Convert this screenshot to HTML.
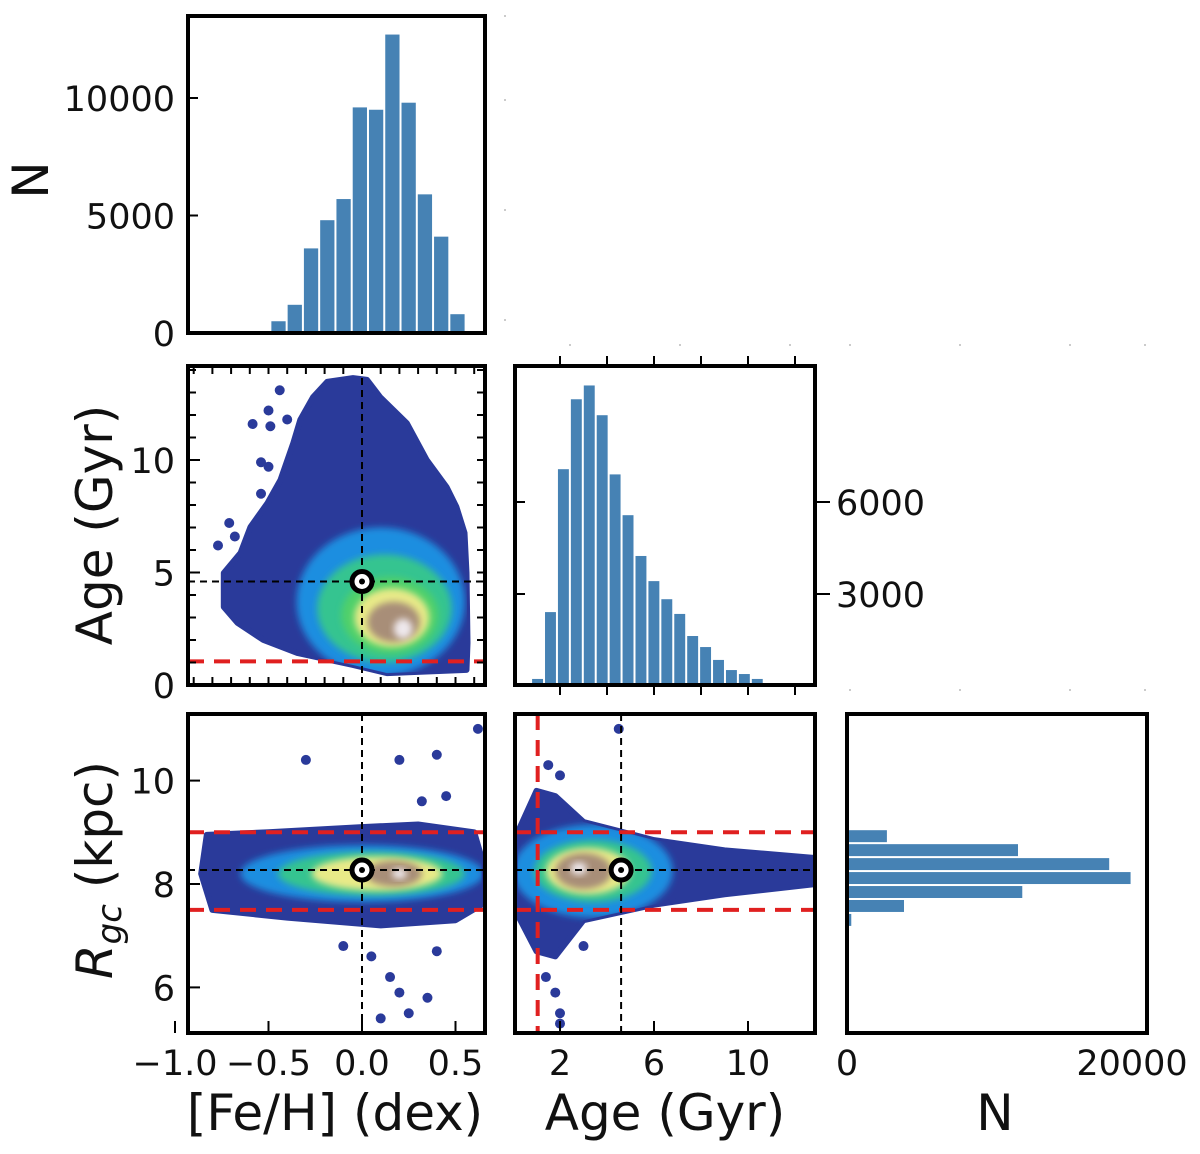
<!DOCTYPE html>
<html><head><meta charset="utf-8"><style>
html,body{margin:0;padding:0;background:#fff;}
svg{display:block;font-family:"DejaVu Sans","Liberation Sans",sans-serif;}
</style></head><body>
<svg id="fig" width="1200" height="1154" viewBox="0 0 1200 1154" xmlns="http://www.w3.org/2000/svg"></svg>
<script>
// ---- data ----
const fehBinStart = -0.49, fehBinWidth = 0.087;
const fehCounts = [500,1200,3600,4800,5700,9600,9500,12700,9800,5900,4100,800];
const ageBinStart = 0.77, ageBinWidth = 0.55;
const ageCounts = [230,2410,7070,9350,9800,8830,6900,5570,4240,3420,2830,2350,1630,1270,850,520,390,230];
const rBinStart = 7.17, rBinHeight = 0.27;
const rCounts = [300,4000,12300,19900,18400,12000,2800];
const sunFeh = 0.0, sunAge = 4.6, sunR = 8.27;
const ageCut = 1.05, rLow = 7.5, rHigh = 9.0;
const cloudFA = [[-0.186,13.47],[-0.048,13.64],[0.027,13.56],[0.096,12.8],[0.239,11.64],[0.346,10.0],[0.452,8.8],[0.505,7.91],[0.548,6.76],[0.559,4.98],[0.564,1.87],[0.559,0.67],[0.133,0.53],[-0.048,0.89],[-0.346,1.42],[-0.527,2.0],[-0.665,2.76],[-0.739,3.47],[-0.739,4.98],[-0.649,5.87],[-0.596,7.02],[-0.505,8.09],[-0.436,9.11],[-0.367,10.76],[-0.33,11.78],[-0.261,12.8]];
const outFA = [[-0.44,13.1],[-0.5,12.2],[-0.585,11.6],[-0.49,11.5],[-0.4,11.8],[-0.54,9.9],[-0.5,9.7],[-0.54,8.5],[-0.71,7.2],[-0.68,6.6],[-0.77,6.2]];
const levFA = [[0.1,3.7,0.45,3.3,'#1c8ee0'],[0.12,3.4,0.36,2.4,'#36c490'],[0.15,3.1,0.26,1.7,'#4fd06a'],[0.16,3.0,0.2,1.3,'#e8ea88'],[0.17,2.8,0.14,0.9,'#a88e78'],[0.22,2.5,0.05,0.45,'#eee8ec']];
const cloudFR = [[-0.83,8.95],[-0.5,9.0],[0.0,9.1],[0.3,9.15],[0.6,9.0],[0.64,8.5],[0.64,7.6],[0.5,7.3],[0.1,7.2],[-0.4,7.35],[-0.8,7.5],[-0.86,8.2]];
const outFR = [[-0.3,10.4],[0.2,10.4],[0.4,10.5],[0.62,11.0],[0.32,9.6],[0.45,9.7],[0.05,6.6],[0.15,6.2],[0.2,5.9],[0.35,5.8],[0.1,5.4],[0.25,5.5],[-0.1,6.8],[0.4,6.7]];
const levFR = [[0.0,8.2,0.65,0.55,'#1c8ee0'],[0.05,8.2,0.5,0.42,'#36c490'],[0.08,8.2,0.35,0.33,'#e8ea88'],[0.17,8.2,0.15,0.25,'#a88e78'],[0.2,8.2,0.04,0.1,'#eee8ec']];
const cloudAR = [[0.2,9.0],[1.0,9.8],[1.8,9.7],[3,9.2],[6,8.85],[9,8.65],[12.9,8.5],[12.9,8.0],[9,7.8],[6,7.6],[3,7.3],[1.8,6.6],[1.0,6.7],[0.2,7.4]];
const outAR = [[4.5,11.0],[1.5,10.3],[2.0,10.1],[1.4,6.2],[1.8,5.9],[2.0,5.5],[2.0,5.3],[3.0,6.8]];
const levAR = [[3.4,8.25,3.4,0.9,'#1c8ee0'],[3.4,8.25,2.5,0.6,'#36c490'],[3.2,8.25,1.8,0.45,'#e8ea88'],[3.0,8.25,1.2,0.35,'#a88e78'],[2.8,8.3,0.35,0.12,'#eee8ec']];

const NS='http://www.w3.org/2000/svg';
const svg=document.getElementById('fig');
function el(tag,attrs,parent){const e=document.createElementNS(NS,tag);for(const k in attrs)e.setAttribute(k,attrs[k]);(parent||svg).appendChild(e);return e;}
function lin(d0,d1,p0,p1){return v=>p0+(v-d0)*(p1-p0)/(d1-d0);}

const fx=lin(0,0.5,362,455.5);
const yN=lin(0,10000,333,98);
const yAge=lin(0,10,685,460);
const axAge=lin(2,10,560,748);
const yAgeN=lin(3000,6000,594,502);
const yR=lin(8,10,884,780.6);
const xN=lin(0,20000,847,1132);
const TS=35, AS=50;

function frame(name,clipId){
  const g=el('g',clipId?{'clip-path':'url(#'+clipId+')'}:{});
  return g;
}
function box(g,x,y,w,h){const r=el('rect',{x:x,y:y,width:w,height:h,fill:'none',stroke:'#000','stroke-width':4},g);}
function text(g,x,y,s,anchor,size,name,rot){const t=el('text',{x:x,y:y,'font-size':size||TS,'text-anchor':anchor||'middle',fill:'#111'},g);if(rot)t.setAttribute('transform','rotate(-90 '+x+' '+y+')');t.textContent=s;return t;}
function tick(g,x1,y1,x2,y2){const l=el('line',{x1:x1,y1:y1,x2:x2,y2:y2,stroke:'#000','stroke-width':2},g);}
function poly(g,pts,sx,sy,fill,name){const p=el('polygon',{points:pts.map(q=>sx(q[0]).toFixed(1)+','+sy(q[1]).toFixed(1)).join(' '),fill:fill,stroke:fill,'stroke-width':6,'stroke-linejoin':'round'},g);}
function levels(g,lv,sx,sy,cid){const gg=el('g',{'clip-path':'url(#'+cid+')'},g);lv.forEach(l=>{const cx=sx(l[0]),cy=sy(l[1]);const e=el('ellipse',{cx:cx,cy:cy,rx:Math.abs(sx(l[0]+l[2])-cx),ry:Math.abs(sy(l[1]+l[3])-cy),fill:l[4],filter:'url(#blur)'},gg);});}
function dots(g,pts,sx,sy){pts.forEach(q=>{const c=el('circle',{cx:sx(q[0]),cy:sy(q[1]),r:5,fill:'#2a3a9a'},g);});}
function sun(g,x,y){const a=el('circle',{cx:x,cy:y,r:10,fill:'#fff',stroke:'#000','stroke-width':5},g);const b=el('circle',{cx:x,cy:y,r:3,fill:'#000'},g);}
function dash(g,x1,y1,x2,y2,color,w,da,name){const l=el('line',{x1:x1,y1:y1,x2:x2,y2:y2,stroke:color,'stroke-width':w,'stroke-dasharray':da},g);}

const defs=el('defs',{});
const f=el('filter',{id:'blur',x:'-30%',y:'-30%',width:'160%',height:'160%'},defs);el('feGaussianBlur',{stdDeviation:3.5},f);
function clip(id,pts,sx,sy){const c=el('clipPath',{id:id},defs);el('polygon',{points:pts.map(q=>sx(q[0])+','+sy(q[1])).join(' ')},c);}
function rclip(id,x,y,w,h){const c=el('clipPath',{id:id},defs);el('rect',{x:x,y:y,width:w,height:h},c);}
clip('cFA',cloudFA,fx,yAge);clip('cFR',cloudFR,fx,yR);clip('cAR',cloudAR,axAge,yR);
rclip('pFA',188,366,297,319);rclip('pFR',188,714,297,319);rclip('pAR',515,714,300,319);

const gdots=frame('empty-grid-dots');
[[505,16],[505,100],[505,210],[505,320],[570,345],[680,345],[790,345],[850,345],[960,345],[1070,345],[1145,345],[850,690],[960,690],[1070,690],[1145,690]].forEach(p=>{const c=el('circle',{cx:p[0],cy:p[1],r:1,fill:'#bbb'},gdots);});

// ---- panel 1 ----
let g=frame('feh-histogram');
fehCounts.forEach((c,i)=>{const x0=fx(fehBinStart+i*fehBinWidth),x1=fx(fehBinStart+(i+1)*fehBinWidth);const r=el('rect',{x:x0+1,y:yN(c),width:x1-x0-2,height:yN(0)-yN(c),fill:'#4682b4'},g);});
box(g,188,16,297,317);
[0,5000,10000].forEach(v=>{tick(g,188,yN(v),198,yN(v));text(g,175,yN(v)+13,String(v),'end');});
text(g,48,180,'N','middle',AS,'y-axis-title-n',true);

// ---- panel 2 ----
let gw=frame('feh-age-scatter');
g=frame('feh-age-data','pFA');gw.appendChild(g);
poly(g,cloudFA,fx,yAge,'#2a3a9a','density-cloud');
levels(g,levFA,fx,yAge,'cFA');
dots(g,outFA,fx,yAge);
dash(g,188,yAge(ageCut),485,yAge(ageCut),'#e02020',4,'16 10','age-cut-line');
dash(g,fx(sunFeh),366,fx(sunFeh),684,'#000',2,'7 5','sun-feh-line');
dash(g,188,yAge(sunAge),485,yAge(sunAge),'#000',2,'7 5','sun-age-line');
sun(g,fx(sunFeh),yAge(sunAge));
g=gw;
box(g,188,366,297,319);
for(let v=1;v<=14;v++){tick(g,188,yAge(v),196,yAge(v));tick(g,485,yAge(v),477,yAge(v));}
for(let v=-0.9;v<=0.65;v+=0.1){const x=fx(v);tick(g,x,366,x,374);tick(g,x,685,x,677);}
[0,5,10].forEach(v=>{tick(g,188,yAge(v),200,yAge(v));text(g,175,yAge(v)+13,String(v),'end');});
text(g,112,525,'Age (Gyr)','middle',AS,'y-axis-title-age',true);

// ---- panel 3 ----
g=frame('age-histogram');
ageCounts.forEach((c,i)=>{const x0=axAge(ageBinStart+i*ageBinWidth),x1=axAge(ageBinStart+(i+1)*ageBinWidth);const r=el('rect',{x:x0+1,y:yAgeN(c),width:x1-x0-2,height:685-yAgeN(c),fill:'#4682b4'},g);});
box(g,515,366,300,319);
[2,4,6,8,10,12].forEach(v=>{tick(g,axAge(v),366,axAge(v),356);tick(g,axAge(v),685,axAge(v),695);});
[3000,6000].forEach(v=>{tick(g,815,yAgeN(v),830,yAgeN(v));tick(g,515,yAgeN(v),525,yAgeN(v));text(g,836,yAgeN(v)+13,String(v),'start');});

// ---- panel 4 ----
gw=frame('feh-rgc-scatter');
g=frame('feh-rgc-data','pFR');gw.appendChild(g);
poly(g,cloudFR,fx,yR,'#2a3a9a','density-cloud');
levels(g,levFR,fx,yR,'cFR');
dots(g,outFR,fx,yR);
dash(g,188,yR(rHigh),485,yR(rHigh),'#e02020',4,'16 10','r-high-line');
dash(g,188,yR(rLow),485,yR(rLow),'#e02020',4,'16 10','r-low-line');
dash(g,fx(sunFeh),714,fx(sunFeh),1032,'#000',2,'7 5','sun-feh-line');
dash(g,188,yR(sunR),485,yR(sunR),'#000',2,'7 5','sun-r-line');
sun(g,fx(sunFeh),yR(sunR));
g=gw;
box(g,188,714,297,319);
[6,8,10].forEach(v=>{tick(g,188,yR(v),200,yR(v));text(g,175,yR(v)+13,String(v),'end');});
[[-1.0,'\u22121.0'],[-0.5,'\u22120.5'],[0,'0.0'],[0.5,'0.5']].forEach(v=>{tick(g,fx(v[0]),1033,fx(v[0]),1021);text(g,fx(v[0]),1075,v[1],'middle');});
text(g,335,1130,'[Fe/H] (dex)','middle',AS,'x-axis-title-feh');
const rt=text(g,112,870,'','middle',AS,'y-axis-title-rgc',true);
const t1=el('tspan',{'font-style':'italic'},rt);t1.textContent='R';
const t2=el('tspan',{'font-style':'italic','font-size':34,dy:9},rt);t2.textContent='gc';
const t3=el('tspan',{dy:-9},rt);t3.textContent=' (kpc)';

// ---- panel 5 ----
gw=frame('age-rgc-scatter');
g=frame('age-rgc-data','pAR');gw.appendChild(g);
poly(g,cloudAR,axAge,yR,'#2a3a9a','density-cloud');
levels(g,levAR,axAge,yR,'cAR');
dots(g,outAR,axAge,yR);
dash(g,515,yR(rHigh),815,yR(rHigh),'#e02020',4,'16 10','r-high-line');
dash(g,515,yR(rLow),815,yR(rLow),'#e02020',4,'16 10','r-low-line');
dash(g,axAge(ageCut),714,axAge(ageCut),1032,'#e02020',4,'16 10','age-cut-line');
dash(g,axAge(sunAge),714,axAge(sunAge),1032,'#000',2,'7 5','sun-age-line');
dash(g,515,yR(sunR),815,yR(sunR),'#000',2,'7 5','sun-r-line');
sun(g,axAge(sunAge),yR(sunR));
g=gw;
box(g,515,714,300,319);
[2,6,10].forEach(v=>{tick(g,axAge(v),1033,axAge(v),1021);text(g,axAge(v),1075,String(v),'middle');});
text(g,665,1130,'Age (Gyr)','middle',AS,'x-axis-title-age');

// ---- panel 6 ----
g=frame('rgc-histogram');
rCounts.forEach((c,i)=>{const y0=yR(rBinStart+(i+1)*rBinHeight),y1=yR(rBinStart+i*rBinHeight);const r=el('rect',{x:847,y:y0+1,width:xN(c)-847,height:y1-y0-2,fill:'#4682b4'},g);});
box(g,847,714,300,319);
text(g,847,1075,'0','middle');
text(g,1132,1075,'20000','middle');
text(g,995,1130,'N','middle',AS,'x-axis-title-n');
</script>
</body></html>
